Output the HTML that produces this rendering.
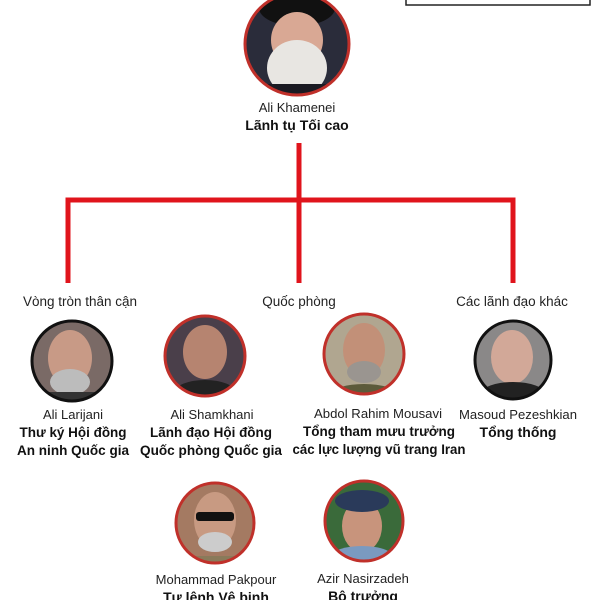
<!DOCTYPE html>
<html><head><meta charset="utf-8"><style>
body{margin:0;background:#fff;width:600px;height:600px;overflow:hidden;font-family:"Liberation Sans",sans-serif;}
</style></head><body>
<svg width="600" height="600" viewBox="0 0 600 600" xmlns="http://www.w3.org/2000/svg" font-family="Liberation Sans, sans-serif" text-anchor="middle">
<defs>
<clipPath id="c0"><ellipse cx="297" cy="44" rx="51" ry="50"/></clipPath>
<clipPath id="c1"><ellipse cx="72" cy="361" rx="39" ry="39"/></clipPath>
<clipPath id="c2"><ellipse cx="205" cy="356" rx="39" ry="39"/></clipPath>
<clipPath id="c3"><ellipse cx="364" cy="354" rx="39" ry="39"/></clipPath>
<clipPath id="c4"><ellipse cx="513" cy="360" rx="37" ry="38"/></clipPath>
<clipPath id="c5"><ellipse cx="215" cy="523" rx="38" ry="39"/></clipPath>
<clipPath id="c6"><ellipse cx="364" cy="521" rx="38" ry="39"/></clipPath>
</defs>
<rect x="406" y="-5" width="184" height="10" fill="#fff" stroke="#222" stroke-width="1.5"/>
<g clip-path="url(#c0)">
<rect x="240" y="-10" width="120" height="110" fill="#2a2c3a"/>
<ellipse cx="297" cy="8" rx="38" ry="18" fill="#111"/>
<ellipse cx="297" cy="40" rx="26" ry="28" fill="#d9a894"/>
<ellipse cx="297" cy="68" rx="30" ry="28" fill="#e8e6e2"/>
<rect x="245" y="84" width="104" height="16" fill="#1a1a22"/>
</g>
<ellipse cx="297" cy="44" rx="52" ry="51" fill="none" stroke="#c0302a" stroke-width="3"/>
<text x="297" y="112" font-size="13" fill="#222">Ali Khamenei</text>
<text x="297" y="130" font-size="14" font-weight="bold" fill="#111">Lãnh tụ Tối cao</text>
<g stroke="#e0141c" stroke-width="5" fill="none">
<line x1="299" y1="143" x2="299" y2="283"/>
<polyline points="68,283 68,200 513,200 513,283"/>
</g>
<text x="80" y="306" font-size="13.5" fill="#222">Vòng tròn thân cận</text>
<text x="299" y="306" font-size="13.5" fill="#222">Quốc phòng</text>
<text x="512" y="306" font-size="13.5" fill="#222">Các lãnh đạo khác</text>
<g clip-path="url(#c1)">
<rect x="30" y="320" width="84" height="84" fill="#7a6a66"/>
<ellipse cx="70" cy="358" rx="22" ry="28" fill="#c89a86"/>
<ellipse cx="70" cy="382" rx="20" ry="13" fill="#bcbcbc"/>
<rect x="30" y="392" width="84" height="12" fill="#333"/>
</g>
<ellipse cx="72" cy="361" rx="40" ry="40" fill="none" stroke="#111" stroke-width="3"/>
<g clip-path="url(#c2)">
<rect x="160" y="315" width="90" height="84" fill="#4a3f4a"/>
<ellipse cx="205" cy="352" rx="22" ry="27" fill="#b68470"/>
<ellipse cx="205" cy="392" rx="30" ry="12" fill="#222"/>
</g>
<ellipse cx="205" cy="356" rx="40" ry="40" fill="none" stroke="#c0302a" stroke-width="3"/>
<g clip-path="url(#c3)">
<rect x="320" y="312" width="90" height="84" fill="#b0a690"/>
<ellipse cx="364" cy="350" rx="21" ry="27" fill="#c29078"/>
<ellipse cx="364" cy="372" rx="17" ry="11" fill="#9a9590"/>
<ellipse cx="364" cy="394" rx="32" ry="10" fill="#5c5a3a"/>
</g>
<ellipse cx="364" cy="354" rx="40" ry="40" fill="none" stroke="#c0302a" stroke-width="3"/>
<g clip-path="url(#c4)">
<rect x="470" y="320" width="90" height="84" fill="#8a8888"/>
<ellipse cx="512" cy="357" rx="21" ry="27" fill="#d2a898"/>
<ellipse cx="513" cy="394" rx="32" ry="12" fill="#222"/>
</g>
<ellipse cx="513" cy="360" rx="38" ry="39" fill="none" stroke="#111" stroke-width="3"/>
<g clip-path="url(#c5)">
<rect x="170" y="480" width="90" height="88" fill="#a47a62"/>
<ellipse cx="215" cy="520" rx="21" ry="28" fill="#c89a82"/>
<rect x="196" y="512" width="38" height="9" rx="3" fill="#111"/>
<ellipse cx="215" cy="542" rx="17" ry="10" fill="#ccc"/>
<rect x="170" y="556" width="90" height="10" fill="#8a7a5a"/>
</g>
<ellipse cx="215" cy="523" rx="39" ry="40" fill="none" stroke="#c0302a" stroke-width="3"/>
<g clip-path="url(#c6)">
<rect x="320" y="478" width="90" height="88" fill="#3a6a3a"/>
<ellipse cx="362" cy="526" rx="20" ry="26" fill="#c8947c"/>
<ellipse cx="362" cy="501" rx="27" ry="11" fill="#2a3a5a"/>
<ellipse cx="362" cy="556" rx="30" ry="10" fill="#7a9ac0"/>
</g>
<ellipse cx="364" cy="521" rx="39" ry="40" fill="none" stroke="#c0302a" stroke-width="3"/>
<g font-size="13" fill="#222">
<text x="73" y="419">Ali Larijani</text>
<text x="212" y="419">Ali Shamkhani</text>
<text x="378" y="418" textLength="128" lengthAdjust="spacingAndGlyphs">Abdol Rahim Mousavi</text>
<text x="518" y="419" textLength="118" lengthAdjust="spacingAndGlyphs">Masoud Pezeshkian</text>
<text x="216" y="584">Mohammad Pakpour</text>
<text x="363" y="583">Azir Nasirzadeh</text>
</g>
<g font-size="14" font-weight="bold" fill="#111">
<text x="73" y="437" textLength="107" lengthAdjust="spacingAndGlyphs">Thư ký Hội đồng</text>
<text x="73" y="455" textLength="112" lengthAdjust="spacingAndGlyphs">An ninh Quốc gia</text>
<text x="211" y="437" textLength="122" lengthAdjust="spacingAndGlyphs">Lãnh đạo Hội đồng</text>
<text x="211" y="455" textLength="142" lengthAdjust="spacingAndGlyphs">Quốc phòng Quốc gia</text>
<text x="379" y="436" textLength="152" lengthAdjust="spacingAndGlyphs">Tổng tham mưu trưởng</text>
<text x="379" y="454" textLength="173" lengthAdjust="spacingAndGlyphs">các lực lượng vũ trang Iran</text>
<text x="518" y="437">Tổng thống</text>
<text x="216" y="602">Tư lệnh Vệ binh</text>
<text x="363" y="601">Bộ trưởng</text>
</g>
</svg>
</body></html>
